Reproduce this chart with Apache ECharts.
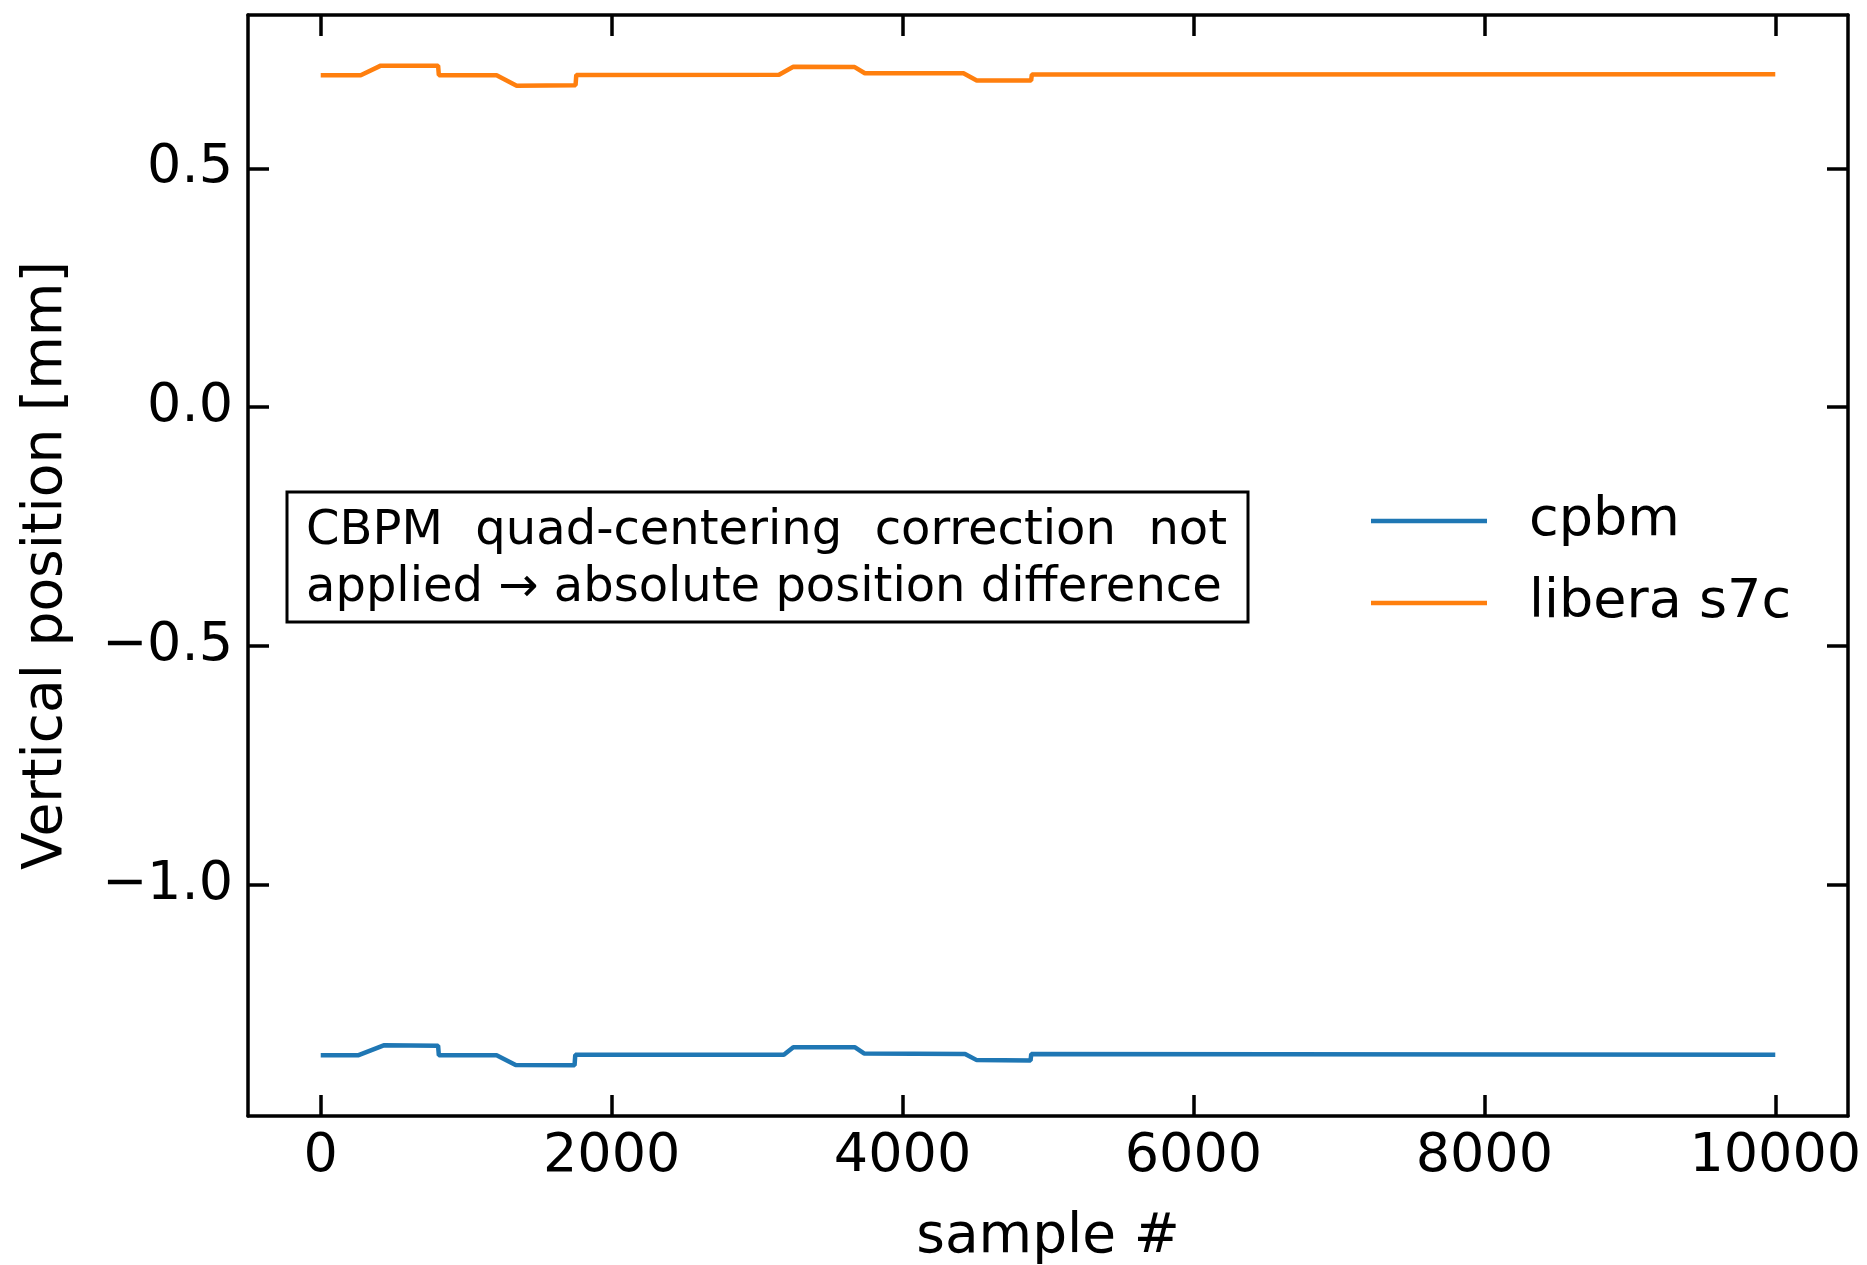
<!DOCTYPE html>
<html>
<head>
<meta charset="utf-8">
<script src="https://cdn.jsdelivr.net/npm/echarts@6/dist/echarts.min.js"></script>
<style>
html,body{margin:0;padding:0;background:#fff;}
#chart{width:1867px;height:1265px;}
</style>
</head>
<body>
<div id="chart"></div>
<script>
// ---- data ----
const cpbmX = [0, 256, 433, 807, 812, 1209, 1340, 1745, 1750, 3184, 3249, 3671, 3735, 4430, 4510, 4880, 4885, 10000];
const cpbmY = [-1.357, -1.357, -1.336, -1.337, -1.357, -1.357, -1.377, -1.378, -1.356, -1.356, -1.340, -1.340, -1.353, -1.354, -1.367, -1.368, -1.354, -1.356];
const liberaX = [0, 275, 413, 807, 812, 1209, 1347, 1752, 1757, 3151, 3249, 3671, 3741, 4419, 4510, 4884, 4889, 10000];
const liberaY = [0.695, 0.695, 0.715, 0.715, 0.695, 0.695, 0.673, 0.674, 0.6956, 0.696, 0.7125, 0.712, 0.699, 0.699, 0.684, 0.684, 0.6965, 0.697];
const seriesNames = ['cpbm', 'libera s7c'];
const xTicks = [0, 2000, 4000, 6000, 8000, 10000];
const yTicks = [-1.0, -0.5, 0.0, 0.5];
const xLabel = 'sample #';
const yLabel = 'Vertical position [mm]';
const noteLine1 = ['CBPM', 'quad-centering', 'correction', 'not'];
const noteLine2 = 'applied \u2192 absolute position difference';

const FONT = '"DejaVu Sans", "Noto Sans", sans-serif';
const X_MIN = -500, X_MAX = 10500, Y_MIN = -1.484, Y_MAX = 0.821;

function pairs(xs, ys) { return xs.map((x, i) => [x, ys[i]]); }

const chart = echarts.init(document.getElementById('chart'), null, {renderer: 'canvas'});

// note box with justified first line
const noteFontSize = 48;
const ctx = document.createElement('canvas').getContext('2d');
ctx.font = noteFontSize + 'px ' + FONT;
const boxX = 287, boxY = 492, boxW = 961, boxH = 130;
const textLeft = 306, line1Right = 1227;
const lineGap = 57;
const line1Y = boxY + boxH / 2 - lineGap / 2 + 3;
const line2Y = boxY + boxH / 2 + lineGap / 2 + 3;
const widths = noteLine1.map(w => ctx.measureText(w).width);
const totalW = widths.reduce((a, b) => a + b, 0);
const gap = (line1Right - textLeft - totalW) / (noteLine1.length - 1);
const noteElems = [{
  type: 'rect', shape: {x: boxX, y: boxY, width: boxW, height: boxH},
  style: {fill: '#fff', stroke: '#000', lineWidth: 3}, z: 100
}];
let cx = textLeft;
noteLine1.forEach((w, i) => {
  noteElems.push({type: 'text', z: 101, style: {text: w, x: cx, y: line1Y, fill: '#000',
    font: noteFontSize + 'px ' + FONT, align: 'left', verticalAlign: 'middle'}});
  cx += widths[i] + gap;
});
noteElems.push({type: 'text', z: 101, style: {text: noteLine2, x: textLeft, y: line2Y, fill: '#000',
  font: noteFontSize + 'px ' + FONT, align: 'left', verticalAlign: 'middle'}});

const axisLineStyle = {show: true, onZero: false, lineStyle: {color: '#000', width: 3.5}};
const tickStyle = {show: true, inside: true, length: 21, lineStyle: {color: '#000', width: 3.5}};

const option = {
  animation: false,
  backgroundColor: '#fff',
  grid: {left: 248, right: 19, top: 15, bottom: 149, containLabel: false, outerBoundsMode: 'none'},
  xAxis: [{
    type: 'value', min: X_MIN, max: X_MAX, position: 'bottom',
    axisLine: axisLineStyle,
    axisTick: Object.assign({}, tickStyle, {customValues: xTicks}),
    axisLabel: {show: true, customValues: xTicks, margin: 14, color: '#000', fontSize: 54, fontFamily: FONT,
      formatter: v => String(v)},
    splitLine: {show: false},
    name: xLabel, nameLocation: 'middle', nameGap: 94,
    nameTextStyle: {color: '#000', fontSize: 55, fontFamily: FONT}
  }, {
    type: 'value', min: X_MIN, max: X_MAX, position: 'top',
    axisLine: axisLineStyle,
    axisTick: Object.assign({}, tickStyle, {customValues: xTicks}),
    axisLabel: {show: false, customValues: xTicks},
    splitLine: {show: false}
  }],
  yAxis: [{
    type: 'value', min: Y_MIN, max: Y_MAX, position: 'left',
    axisLine: axisLineStyle,
    axisTick: Object.assign({}, tickStyle, {customValues: yTicks}),
    axisLabel: {show: true, customValues: yTicks, margin: 15, color: '#000', fontSize: 54, fontFamily: FONT,
      formatter: v => v.toFixed(1).replace('-', '\u2212')},
    splitLine: {show: false},
    name: yLabel, nameLocation: 'middle', nameGap: 174, nameRotate: 90,
    nameTextStyle: {color: '#000', fontSize: 55, fontFamily: FONT}
  }, {
    type: 'value', min: Y_MIN, max: Y_MAX, position: 'right',
    axisLine: axisLineStyle,
    axisTick: Object.assign({}, tickStyle, {customValues: yTicks}),
    axisLabel: {show: false, customValues: yTicks},
    splitLine: {show: false}
  }],
  legend: {
    orient: 'vertical', left: 1366, top: 489,
    icon: 'rect', itemWidth: 116, itemHeight: 4.5, itemGap: 28,
    data: seriesNames,
    textStyle: {color: '#000', fontSize: 54, fontFamily: FONT, lineHeight: 54, padding: [0, 0, 0, 37]}
  },
  graphic: {elements: noteElems},
  series: [{
    name: seriesNames[0], type: 'line', xAxisIndex: 0, yAxisIndex: 0,
    showSymbol: false, symbol: 'none', data: pairs(cpbmX, cpbmY),
    lineStyle: {color: '#1f77b4', width: 4.5}, itemStyle: {color: '#1f77b4'}
  }, {
    name: seriesNames[1], type: 'line', xAxisIndex: 0, yAxisIndex: 0,
    showSymbol: false, symbol: 'none', data: pairs(liberaX, liberaY),
    lineStyle: {color: '#ff7f0e', width: 4.5}, itemStyle: {color: '#ff7f0e'}
  }]
};
chart.setOption(option);
</script>
</body>
</html>
